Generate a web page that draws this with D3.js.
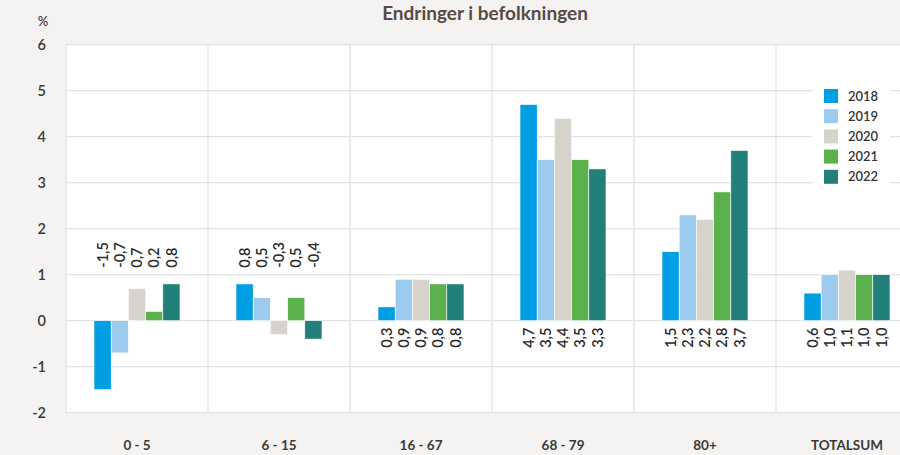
<!DOCTYPE html>
<html>
<head>
<meta charset="utf-8">
<script src="https://cdn.jsdelivr.net/npm/d3@7"></script>
<style>
  body { margin: 0; background: #f4f3f1; font-family: Lato, "Open Sans", sans-serif; }
</style>
</head>
<body>
<div id="chart"></div>
<script>
// Data
const categories = ["0 - 5", "6 - 15", "16 - 67", "68 - 79", "80+", "TOTALSUM"];
const years = ["2018", "2019", "2020", "2021", "2022"];
const values = [
  [-1.5, -0.7, 0.7, 0.2, 0.8],
  [0.8, 0.5, -0.3, 0.5, -0.4],
  [0.3, 0.9, 0.9, 0.8, 0.8],
  [4.7, 3.5, 4.4, 3.5, 3.3],
  [1.5, 2.3, 2.2, 2.8, 3.7],
  [0.6, 1.0, 1.1, 1.0, 1.0]
];
const yTicks = [-2, -1, 0, 1, 2, 3, 4, 5, 6];
const colors = ["#009fe3", "#9ccbed", "#d6d2cc", "#5bb14b", "#237f7a"];

const W = 900, H = 455;
const margin = { top: 44.7, right: -18, bottom: 42.3, left: 66 };
const width = W - margin.left - margin.right,
      height = H - margin.top - margin.bottom;

const svg = d3.select("#chart")
  .append("svg")
    .attr("width", W)
    .attr("height", H)
    .style("display", "block");

svg.append("rect").attr("width", W).attr("height", H).attr("fill", "#f4f3f1");

const g = svg.append("g")
  .attr("transform", `translate(${margin.left},${margin.top})`);

// Scales
const x = d3.scaleBand().domain(categories).range([0, width]).paddingInner(0).paddingOuter(0);
const xSub = d3.scaleBand().domain(years).range([28, x.bandwidth() - 28]);
const y = d3.scaleLinear().domain([-2, 6]).range([height, 0]);
const color = d3.scaleOrdinal().domain(years).range(colors);

// Plot area
g.append("rect")
  .attr("width", width)
  .attr("height", height)
  .attr("fill", "#fff");

// Horizontal gridlines
g.append("g")
  .selectAll("line")
  .data(yTicks)
  .join("line")
    .attr("x1", 0).attr("x2", width)
    .attr("y1", d => y(d)).attr("y2", d => y(d))
    .attr("stroke", "#e2e2e2")
    .attr("stroke-width", 1.3);

// Vertical separators
g.append("g")
  .selectAll("line")
  .data(categories)
  .join("line")
    .attr("x1", d => x(d)).attr("x2", d => x(d))
    .attr("y1", 0).attr("y2", height)
    .attr("stroke", "#e2e2e2")
    .attr("stroke-width", 1.3);

// Y axis
const yAxis = g.append("g")
  .call(d3.axisLeft(y).tickValues(yTicks).tickFormat(d => String(d)).tickSize(0).tickPadding(20));
yAxis.select(".domain").remove();
yAxis.selectAll("text")
  .style("font-family", "Lato, sans-serif")
  .style("font-size", "14.5px")
  .style("font-weight", "600")
  .attr("fill", "#3a3a3a");

svg.append("text")
  .attr("x", 43).attr("y", 26)
  .attr("text-anchor", "middle")
  .style("font-size", "13px")
  .style("font-weight", "600")
  .attr("fill", "#3a3a3a")
  .text("%");

// X axis labels
const xAxis = g.append("g")
  .attr("transform", `translate(0,${height})`)
  .call(d3.axisBottom(x).tickSize(0).tickPadding(28));
xAxis.select(".domain").remove();
xAxis.selectAll("text")
  .style("font-family", "Lato, sans-serif")
  .style("font-size", "13.5px")
  .style("font-weight", "700")
  .attr("fill", "#3a3a3a");

// Bars
const groups = g.append("g")
  .selectAll("g")
  .data(categories.map((c, i) => ({ cat: c, vals: values[i] })))
  .join("g")
    .attr("transform", d => `translate(${x(d.cat)},0)`);

groups.selectAll("rect")
  .data(d => d.vals.map((v, j) => ({ year: years[j], value: v })))
  .join("rect")
    .attr("x", d => xSub(d.year))
    .attr("y", d => y(Math.max(0, d.value)))
    .attr("width", xSub.bandwidth())
    .attr("height", d => Math.abs(y(d.value) - y(0)))
    .attr("fill", d => color(d.year))
    .attr("stroke", "#fff")
    .attr("stroke-width", 0.6);

// Value labels (rotated); above the 1-line when the group has negatives, else under zero
groups.each(function(d) {
  const hasNeg = d.vals.some(v => v < 0);
  d3.select(this).selectAll("text")
    .data(d.vals.map((v, j) => ({ year: years[j], value: v })))
    .join("text")
      .attr("transform", v => {
        const cx = xSub(v.year) + xSub.bandwidth() / 2;
        const cy = hasNeg ? y(1) - 7 : y(0) + 7;
        return `translate(${cx},${cy}) rotate(-90)`;
      })
      .attr("dy", "0.36em")
      .attr("text-anchor", hasNeg ? "start" : "end")
      .style("font-size", "14.5px")
      .style("font-weight", "600")
      .attr("fill", "#2a2a2a")
      .text(v => d3.format(".1f")(v.value).replace(".", ",").replace("−", "-"));
});

// Legend
const legend = svg.append("g").attr("transform", "translate(812,84)");
legend.append("rect")
  .attr("width", 78).attr("height", 104)
  .attr("fill", "#fff");
const items = legend.selectAll("g")
  .data(years)
  .join("g")
    .attr("transform", (d, i) => `translate(12,${5 + i * 20.2})`);
items.append("rect")
  .attr("width", 14).attr("height", 14)
  .attr("fill", d => color(d));
items.append("text")
  .attr("x", 24).attr("y", 7)
  .attr("dy", "0.36em")
  .style("font-size", "13px")
  .style("font-weight", "600")
  .attr("fill", "#333")
  .text(d => d);

// Title
svg.append("text")
  .attr("x", 485).attr("y", 20)
  .attr("text-anchor", "middle")
  .style("font-size", "19px")
  .style("font-weight", "700")
  .attr("fill", "#5a4a44")
  .text("Endringer i befolkningen");
</script>
</body>
</html>
